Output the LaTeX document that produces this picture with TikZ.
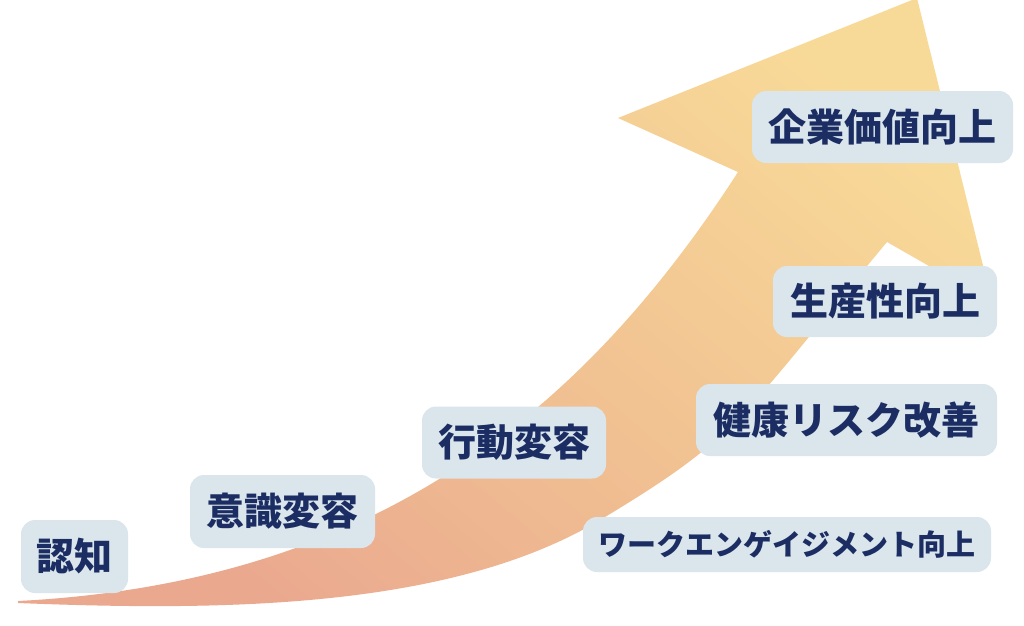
\documentclass[tikz,border=0pt]{standalone}
\usepackage{fontspec}
\newfontfamily\jp{Noto Sans CJK JP}[UprightFont=* Black]
\definecolor{arrowlow}{HTML}{EAA88F}
\definecolor{arrowmid}{HTML}{F1C292}
\definecolor{arrowhigh}{HTML}{F8DA98}
\definecolor{boxfill}{HTML}{DAE6EB}
\definecolor{navy}{HTML}{1B2D63}
\tikzset{
  stage/.style={fill=boxfill, rounded corners=14pt, inner sep=0pt, align=center,
    text=navy, font=\jp\fontsize{38}{40}\selectfont},
  smallstage/.style={stage, font=\jp\fontsize{29}{31}\selectfont}
}
\begin{document}
\begin{tikzpicture}[x=1pt,y=-1pt]
\useasboundingbox (0,0) rectangle (1024,625);
% arrow
\shade[top color=arrowhigh, bottom color=arrowlow, middle color=arrowmid, shading angle=-40]
  (18,601) .. controls (368,583) and (578,420) .. (738,172)
  -- (618,118) -- (917,-2) -- (992,302) -- (887,242)
  .. controls (737,422) and (740,436) .. (600,520)
  .. controls (450,610) and (218,611) .. (18,603)
  -- cycle;
% stages
\node[stage, minimum width=107pt, minimum height=73pt] (ninchi) at (74.5,556.5) {認知};
\node[stage, minimum width=185pt, minimum height=73pt] (ishiki) at (282.5,511.5) {意識変容};
\node[stage, minimum width=184pt, minimum height=72pt] (kodo) at (514,442.5) {行動変容};
\node[stage, minimum width=301pt, minimum height=72pt] (kenko) at (846.5,420) {健康リスク改善};
\node[smallstage, minimum width=408pt, minimum height=55pt] (work) at (787,544.5) {ワークエンゲイジメント向上};
\node[stage, minimum width=261pt, minimum height=72pt] (kigyo) at (882.5,127) {企業価値向上};
\node[stage, minimum width=224pt, minimum height=71pt] (seisan) at (885,301.5) {生産性向上};
\end{tikzpicture}
\end{document}
